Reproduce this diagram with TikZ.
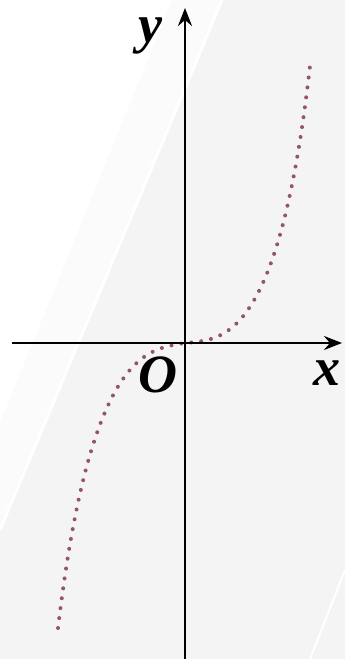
\documentclass[tikz,border=0pt]{standalone}
\usepackage{fontspec}
\setmainfont{Liberation Serif}
\usepackage{tikz}
\usetikzlibrary{arrows.meta}
\definecolor{FondoGris}{RGB}{244,244,244}
\definecolor{FondoClaro}{RGB}{251,251,251}
\definecolor{RojoCurva}{RGB}{150,85,100}
\tikzset{
  eje/.style={line width=2.5pt, black, -{Stealth[length=18pt,width=14pt,inset=6pt]}},
  etiqueta/.style={font=\fontsize{54}{54}\selectfont\bfseries\itshape, inner sep=0pt},
  punteada/.style={RojoCurva, line width=4pt, line cap=round, dash pattern=on 0pt off 10pt},
  declare function={
    der(\t)=10*\t+220*\t^3+47*\t^9;
    izq(\t)=20*\t+224*\t^3+41*\t^9;
  }
}
\begin{document}
\begin{tikzpicture}[x=1pt, y=1pt]
    \useasboundingbox (-185,-316) rectangle (160,343);
    % fondo
    \fill[FondoGris] (-185,-316) rectangle (160,343);
    \fill[FondoClaro] (-185,343) -- (37,343) -- (-185,-187) -- cycle;
    \fill[white] (-185,343) -- (-13,343) -- (-185,-80) -- cycle;
    \draw[white, line width=3pt] (37,343) -- (-185,-187);
    \draw[white, line width=2pt] (160,-227) -- (125,-316);

    \coordinate (O)  at (0,0);
    \coordinate (Xi) at (-173,0);
    \coordinate (Xf) at (157,0);
    \coordinate (Yi) at (0,-316);
    \coordinate (Yf) at (0,335);

    % curva
    \draw[punteada]
        plot[domain=127:0, samples=80] ({-\x}, {-izq(\x/127)})
        -- plot[domain=0:125, samples=80] (\x, {der(\x/125)});

    % ejes
    \draw[eje] (Xi) -- (Xf);
    \draw[eje] (Yi) -- (Yf);

    \node[etiqueta] (lx) at (142,-30) {x};
    \node[etiqueta] (ly) at (-35,307) {y};
    \node[etiqueta] (lO) at (-27,-32) {O};
\end{tikzpicture}
\end{document}
